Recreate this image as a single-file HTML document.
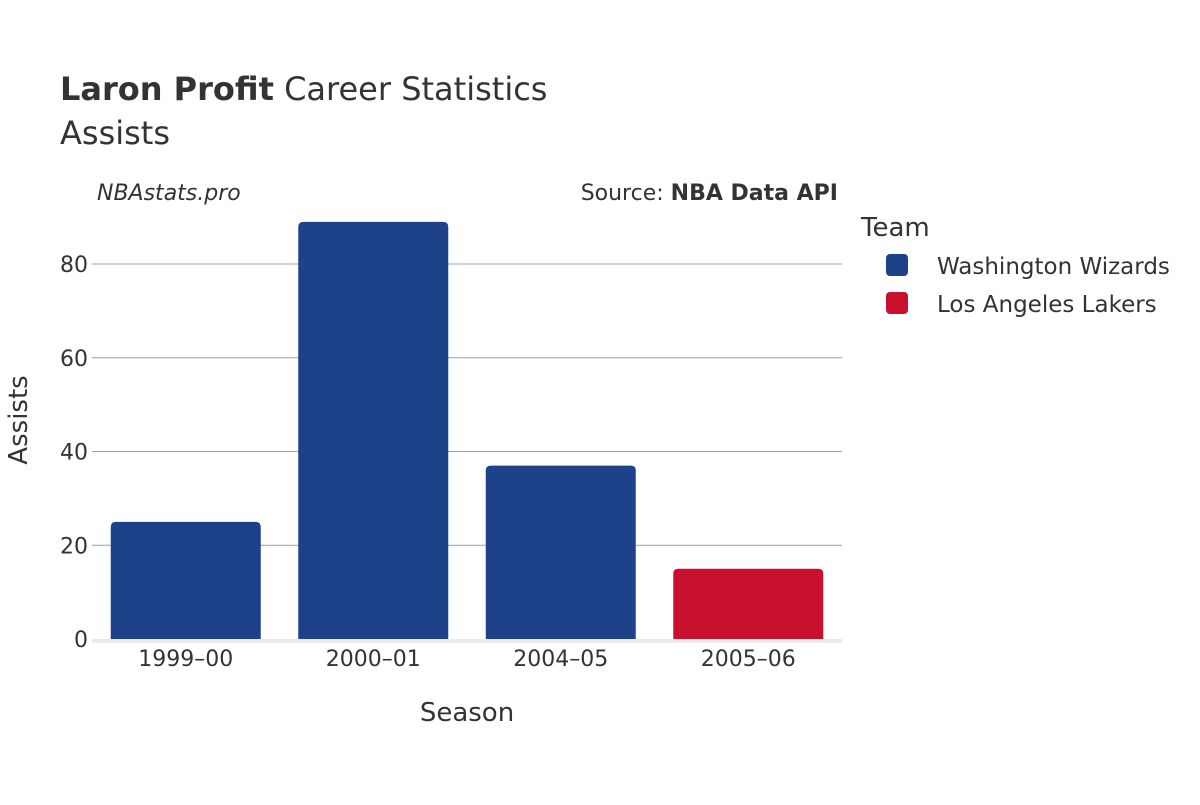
<!DOCTYPE html>
<html><head><meta charset="utf-8"><style>
body{margin:0;background:#fff;}
svg text{font-family:"DejaVu Sans","Liberation Sans",sans-serif;fill:#333;}
</style></head><body>
<svg id="chart" width="1200" height="800" xmlns="http://www.w3.org/2000/svg">
<text x="60" y="100" font-size="32"><tspan font-weight="bold">Laron Profit</tspan> Career Statistics</text>
<text x="60" y="144" font-size="32">Assists</text>
<text x="97" y="200" font-size="22" font-style="italic">NBAstats.pro</text>
<text x="838" y="200" font-size="22" text-anchor="end">Source: <tspan font-weight="bold">NBA Data API</tspan></text>
<g id="grid"></g>
<g id="bars"></g>
<g id="xticks"></g>
<g id="yticks"></g>
<text x="467" y="721" font-size="26" text-anchor="middle">Season</text>
<text transform="translate(27,420) rotate(-90)" font-size="26" text-anchor="middle">Assists</text>
<text x="861" y="236" font-size="26">Team</text>
<g>
<rect x="886" y="254" width="22" height="22" rx="4" fill="#1d428a"/>
<text x="937" y="274" font-size="23">Washington Wizards</text></g>
<g>
<rect x="886" y="292" width="22" height="22" rx="4" fill="#c8102e"/>
<text x="937" y="312" font-size="23">Los Angeles Lakers</text></g>
</svg>
<script>
const categories=["1999–00","2000–01","2004–05","2005–06"];
const values=[25,89,37,15];
const teams=["Washington Wizards","Washington Wizards","Washington Wizards","Los Angeles Lakers"];
const yTicks=[0,20,40,60,80];
const colors={"Washington Wizards":"#1d428a","Los Angeles Lakers":"#c8102e"};
const NS="http://www.w3.org/2000/svg";
const x0=92,x1=842,yBase=639,pxPer=375/80;
const band=(x1-x0)/categories.length;
const y=v=>yBase-v*pxPer;
const xc=i=>x0+band*(i+0.5);
function mk(tag,attrs,parent){const e=document.createElementNS(NS,tag);for(const k in attrs)e.setAttribute(k,attrs[k]);document.getElementById(parent).appendChild(e);return e;}
yTicks.forEach(t=>{
 if(t>0){const l=mk('line',{x1:x0,x2:x1,y1:y(t),y2:y(t),stroke:'#a0a0a0','stroke-width':1},'grid');
 
 }
 const tx=mk('text',{x:88,y:y(t)+8,'font-size':22,'text-anchor':'end'},'yticks');
 tx.textContent=t;
 
 
});
const base=mk('rect',{x:x0,y:yBase,width:x1-x0,height:4,fill:'#ebebeb'},'grid');


categories.forEach((c,i)=>{
 const w=band*0.8;
 const r=mk('path',{},'bars');
 const bx=xc(i)-w/2,by=y(values[i]),rr=5;
 r.setAttribute('d',`M${bx},${yBase}V${by+rr}Q${bx},${by} ${bx+rr},${by}H${bx+w-rr}Q${bx+w},${by} ${bx+w},${by+rr}V${yBase}Z`);
 r.setAttribute('fill',colors[teams[i]]);
 
 
 const tx=mk('text',{x:xc(i),y:666,'font-size':22,'text-anchor':'middle'},'xticks');
 tx.textContent=c;
 
 
});
</script>
</body></html>
